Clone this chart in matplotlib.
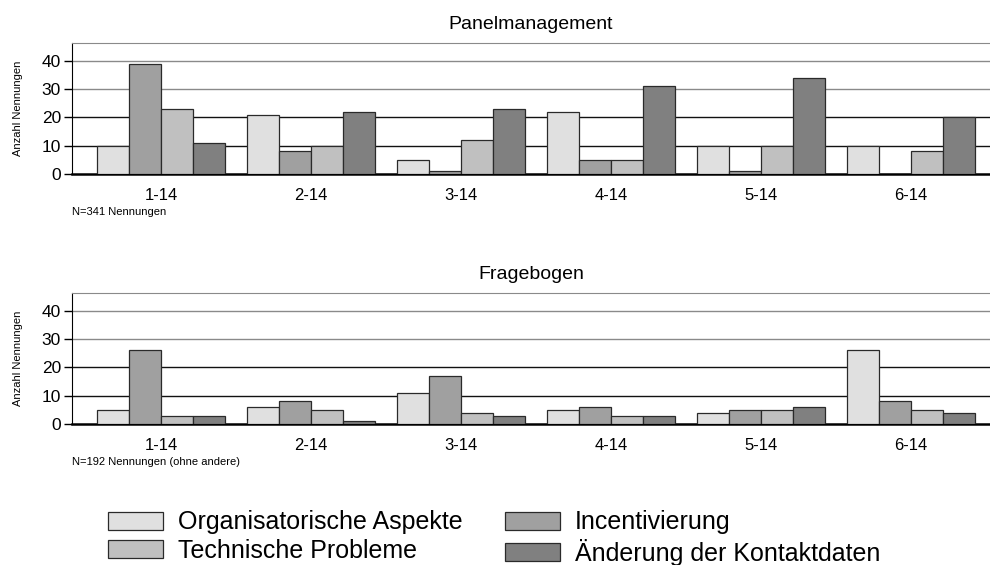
import numpy as np
import matplotlib
matplotlib.use("Agg")
import matplotlib.pyplot as plt
from matplotlib.patches import Patch

plt.rcParams['font.family'] = ['Liberation Sans', 'DejaVu Sans']

groups = ['1-14', '2-14', '3-14', '4-14', '5-14', '6-14']
series = ['Organisatorische Aspekte', 'Incentivierung', 'Technische Probleme',
          'Änderung der Kontaktdaten']
colors = ['#e0e0e0', '#a0a0a0', '#c0c0c0', '#808080']

# Panelmanagement values per series
panel_org = [10, 21, 5, 22, 10, 10]
panel_inc = [39, 8, 1, 5, 1, 0]
panel_tech = [23, 10, 12, 5, 10, 8]
panel_kont = [11, 22, 23, 31, 34, 20]

# Fragebogen values per series
frage_org = [5, 6, 11, 5, 4, 26]
frage_inc = [26, 8, 17, 6, 5, 8]
frage_tech = [3, 5, 4, 3, 5, 5]
frage_kont = [3, 1, 3, 3, 6, 4]

W, H = 990, 565
fig = plt.figure(figsize=(W / 100, H / 100), dpi=100)

bw = 0.2133
x = np.arange(len(groups))


def panel(bottom_px, title, data, note):
    ax = fig.add_axes([72 / W, (H - bottom_px) / H, 918 / W, 130.7 / H])
    for k, vals in enumerate(data):
        ax.bar(x + (k - 1.5) * bw, vals, width=bw, color=colors[k],
               edgecolor='#2a2a2a', linewidth=0.9, zorder=3)
    for v, c in [(10, '#111111'), (20, '#111111'), (30, '#8a8a8a'), (40, '#8a8a8a')]:
        ax.axhline(v, color=c, linewidth=1.0, zorder=1)
    ax.set_xlim(-0.593, 5.527)
    ax.set_ylim(0, 46.2)
    ax.set_yticks([0, 10, 20, 30, 40])
    ax.set_xticks(x)
    ax.set_xticklabels(groups)
    ax.tick_params(axis='y', direction='out', length=6, width=1, labelsize=12.5, pad=2)
    ax.tick_params(axis='x', length=0, labelsize=12, pad=10)
    ax.spines['right'].set_visible(False)
    ax.spines['top'].set_color('#8a8a8a')
    ax.spines['left'].set_linewidth(0.8)
    ax.spines['bottom'].set_linewidth(1.8)
    ax.set_ylabel('Anzahl Nennungen', fontsize=8, labelpad=13)
    ax.set_title(title, fontsize=14, pad=10)
    ax.text(0, -0.29, note, transform=ax.transAxes, fontsize=8, va='center', ha='left')
    return ax


panel(174, 'Panelmanagement', [panel_org, panel_inc, panel_tech, panel_kont],
      'N=341 Nennungen')
panel(424, 'Fragebogen', [frage_org, frage_inc, frage_tech, frage_kont],
      'N=192 Nennungen (ohne andere)')

order = [0, 2, 1, 3]
handles = [Patch(facecolor=colors[i], edgecolor='#2a2a2a', linewidth=0.9) for i in order]
labels = [series[i] for i in order]
fig.legend(handles, labels, ncol=2, loc='center left', bbox_to_anchor=(108 / W, 27 / H),
           frameon=False, fontsize=18, handlelength=2.2, handleheight=0.72,
           handletextpad=0.6, columnspacing=1.7, labelspacing=0.16, borderpad=0,
           borderaxespad=0)

fig.savefig('out.png', dpi=100)
